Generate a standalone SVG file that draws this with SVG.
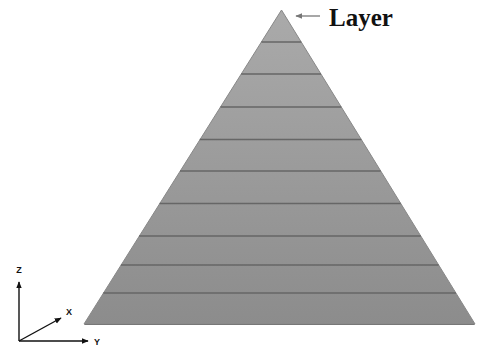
<svg xmlns="http://www.w3.org/2000/svg" width="477" height="348" viewBox="0 0 477 348">
<style>
.layer{stroke:#666;stroke-width:1.3}
.ax{stroke:#111;stroke-width:1.4;fill:none}
.axl{font-family:"Liberation Sans",Arial,sans-serif;font-size:9px;font-weight:bold;fill:#111}
</style>
<defs>
<linearGradient id="g" x1="0" y1="0" x2="0" y2="1">
<stop offset="0" stop-color="#aaaaaa"/>
<stop offset="1" stop-color="#8c8c8c"/>
</linearGradient>
<marker id="ah" viewBox="0 0 10 10" refX="9" refY="5" markerWidth="7" markerHeight="7" orient="auto" markerUnits="userSpaceOnUse">
<path d="M0,1 L10,5 L0,9 Z" fill="#111"/>
</marker>
<marker id="ag" viewBox="0 0 10 10" refX="9" refY="5" markerWidth="7" markerHeight="7" orient="auto" markerUnits="userSpaceOnUse">
<path d="M0,1 L10,5 L0,9 Z" fill="#777"/>
</marker>
</defs>
<g id="pyramid">
<polygon points="281.5,10 84,324 475,324" fill="url(#g)" stroke="#888" stroke-width="1"/>
<line x1="84.5" y1="324.5" x2="474.5" y2="324.5" stroke="#777" stroke-width="1.2"/>
<line class="layer" x1="261.4" y1="42" x2="301.2" y2="42"/>
<line class="layer" x1="241.2" y1="74" x2="321" y2="74"/>
<line class="layer" x1="220.5" y1="107" x2="341.3" y2="107"/>
<line class="layer" x1="199.8" y1="139.5" x2="361.3" y2="139.5"/>
<line class="layer" x1="180" y1="171" x2="380.7" y2="171"/>
<line class="layer" x1="159.6" y1="203.5" x2="400.7" y2="203.5"/>
<line class="layer" x1="139.1" y1="236" x2="420.8" y2="236"/>
<line class="layer" x1="120.9" y1="265" x2="438.6" y2="265"/>
<line class="layer" x1="103.3" y1="293" x2="455.9" y2="293"/>
</g>
<g id="label">
<line x1="320" y1="16" x2="296" y2="16" stroke="#777" stroke-width="1.3" marker-end="url(#ag)"/>
<text x="329" y="26" font-family="Liberation Serif,'Times New Roman',serif" font-size="25" font-weight="bold" fill="#111">Layer</text>
</g>
<g id="axes">
<line class="ax" x1="19" y1="341" x2="19" y2="282" marker-end="url(#ah)"/>
<line class="ax" x1="19" y1="341" x2="88" y2="341" marker-end="url(#ah)"/>
<line class="ax" x1="19" y1="341" x2="61" y2="318" marker-end="url(#ah)"/>
<text class="axl" x="19" y="273" text-anchor="middle">Z</text>
<text class="axl" x="69" y="315" text-anchor="middle">X</text>
<text class="axl" x="97" y="345" text-anchor="middle">Y</text>
</g>
</svg>
